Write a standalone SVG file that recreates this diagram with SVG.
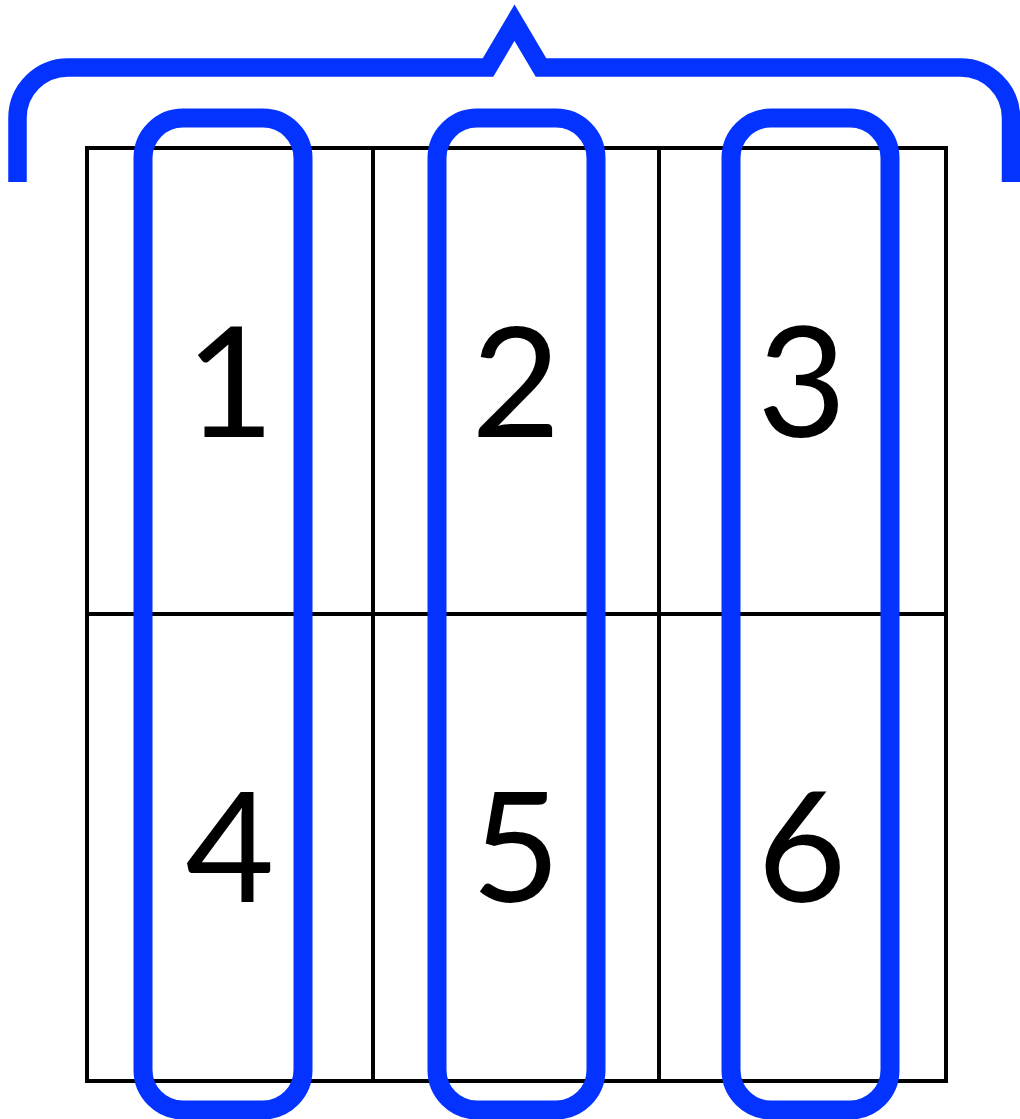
<svg xmlns="http://www.w3.org/2000/svg" width="1020" height="1119" viewBox="0 0 1020 1119">
  <style>
    .grid { fill: none; stroke: #000; stroke-width: 4; }
    .num { font-family: Lato, "Liberation Sans", sans-serif; font-size: 154px; fill: #000; text-anchor: middle; }
    .col { fill: none; stroke: #0433ff; stroke-width: 19; }
    .brace { fill: none; stroke: #0433ff; stroke-width: 18.5; stroke-linejoin: miter; stroke-miterlimit: 10; stroke-linecap: butt; }
  </style>
  <rect width="1020" height="1119" fill="#fff"/>
  <g id="grid">
    <rect class="grid" x="87" y="148" width="859" height="933"/>
    <line class="grid" x1="373" y1="148" x2="373" y2="1081"/>
    <line class="grid" x1="659" y1="148" x2="659" y2="1081"/>
    <line class="grid" x1="87" y1="614" x2="946" y2="614"/>
  </g>
  <g id="cell-1"><text class="num" x="230" y="437">1</text></g>
  <g id="cell-2"><text class="num" x="516" y="437">2</text></g>
  <g id="cell-3"><text class="num" x="802" y="437">3</text></g>
  <g id="cell-4"><text class="num" x="230" y="902">4</text></g>
  <g id="cell-5"><text class="num" x="516" y="902">5</text></g>
  <g id="cell-6"><text class="num" x="802" y="902">6</text></g>
  <g id="column-1"><rect class="col" x="143" y="118" width="160" height="992" rx="40" ry="40"/></g>
  <g id="column-2"><rect class="col" x="437" y="118" width="159" height="992" rx="40" ry="40"/></g>
  <g id="column-3"><rect class="col" x="731" y="118" width="159" height="992" rx="40" ry="40"/></g>
  <g id="brace">
    <path class="brace" d="M17.5,182 V118 A50.5,50.5 0 0 1 68,67.5 H488 L514.5,22.7 L541,67.5 H960.5 A50.5,50.5 0 0 1 1011,118 V182"/>
  </g>
</svg>
